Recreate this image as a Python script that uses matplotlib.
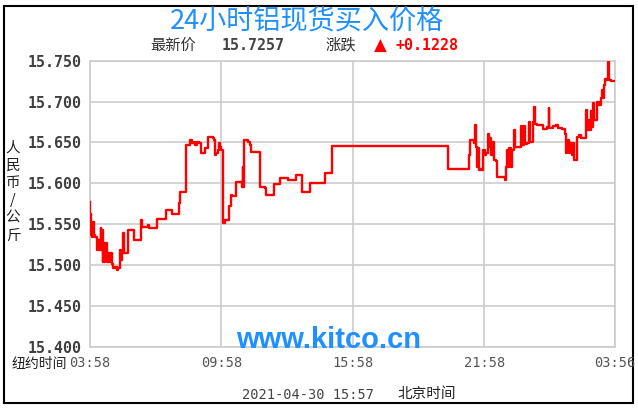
import matplotlib
matplotlib.use("Agg")
import matplotlib.pyplot as plt
from matplotlib.patches import Rectangle

plt.rcParams['font.family'] = ['Noto Sans CJK SC', 'DejaVu Sans']

# ---- data (minutes after 03:58 New York time, price CNY/kg) ----
minutes = [0, 1, 3, 5, 6, 9, 11, 14, 18, 21, 24, 26, 29, 31, 33, 35, 36, 39, 42, 45,
           47, 50, 53, 56, 59, 64, 68, 73, 77, 82, 85, 87, 91, 94, 105, 121, 139, 142,
           159, 162, 184, 207, 224, 243, 246, 262, 273, 275, 280, 284, 287, 292, 299,
           303, 315, 322, 337, 340, 342, 346, 351, 354, 357, 360, 363, 365, 371, 380,
           385, 389, 399, 401, 417, 418, 419, 421, 433, 437, 440, 465, 480, 483, 503,
           521, 542, 563, 582, 602, 643, 663,
           980, 1037, 1042, 1053, 1055, 1057, 1060, 1064, 1066, 1071, 1075, 1077, 1082,
           1086, 1091, 1094, 1096, 1099, 1103, 1106, 1112, 1116, 1137, 1139, 1142, 1146,
           1148, 1153, 1157, 1160, 1164, 1180, 1182, 1189, 1191, 1198, 1203, 1205, 1214,
           1217, 1219, 1223, 1240, 1242, 1253, 1256, 1258, 1267, 1276, 1281, 1294, 1301,
           1303, 1306, 1311, 1314, 1319, 1322, 1326, 1333, 1335, 1340, 1344, 1358, 1361,
           1364, 1367, 1372, 1374, 1378, 1381, 1390, 1394, 1399, 1402, 1405, 1408, 1411,
           1415, 1417, 1420, 1422, 1426, 1438]
prices = [15.577, 15.563, 15.537, 15.547, 15.535, 15.553, 15.537, 15.535, 15.519, 15.531,
          15.519, 15.531, 15.545, 15.519, 15.543, 15.504, 15.527, 15.504, 15.515, 15.527,
          15.504, 15.515, 15.504, 15.515, 15.502, 15.496, 15.498, 15.494, 15.496, 15.519,
          15.506, 15.515, 15.539, 15.515, 15.543, 15.531, 15.555, 15.547, 15.549, 15.545,
          15.557, 15.567, 15.563, 15.576, 15.590, 15.647, 15.649, 15.653, 15.649, 15.651,
          15.647, 15.651, 15.649, 15.637, 15.643, 15.657, 15.655, 15.653, 15.635, 15.637,
          15.641, 15.649, 15.645, 15.641, 15.600, 15.551, 15.555, 15.572, 15.586, 15.584,
          15.586, 15.602, 15.596, 15.620, 15.596, 15.653, 15.651, 15.647, 15.638, 15.596,
          15.594, 15.586, 15.599, 15.606, 15.604, 15.610, 15.590, 15.601, 15.613, 15.646,
          15.618, 15.635, 15.653, 15.649, 15.671, 15.645, 15.620, 15.643, 15.616, 15.618,
          15.616, 15.641, 15.635, 15.637, 15.661, 15.645, 15.655, 15.635, 15.651, 15.629,
          15.627, 15.608, 15.604, 15.620, 15.641, 15.620, 15.643, 15.620, 15.641, 15.665,
          15.645, 15.670, 15.647, 15.670, 15.648, 15.649, 15.675, 15.651, 15.675, 15.694,
          15.673, 15.671, 15.670, 15.667, 15.669, 15.692, 15.668, 15.670, 15.671, 15.668,
          15.667, 15.661, 15.637, 15.653, 15.637, 15.649, 15.635, 15.649, 15.629, 15.635,
          15.657, 15.659, 15.655, 15.690, 15.665, 15.678, 15.665, 15.688, 15.669, 15.698,
          15.678, 15.700, 15.696, 15.704, 15.714, 15.704, 15.720, 15.728, 15.726, 15.728,
          15.748, 15.726, 15.7257, 15.7257]

x_ticks = [0, 360, 720, 1080, 1438]
x_tick_labels = ["03:58", "09:58", "15:58", "21:58", "03:56"]
y_ticks = [15.40, 15.45, 15.50, 15.55, 15.60, 15.65, 15.70, 15.75]
y_tick_labels = ["15.400", "15.450", "15.500", "15.550", "15.600", "15.650", "15.700", "15.750"]

title = "24小时铝现货买入价格"
latest_label, latest_value = "最新价", "15.7257"
change_label, change_value = "涨跌", "+0.1228"
ylabel_chars = ["人", "民", "币", "/", "公", "斤"]
ny_label = "纽约时间"
timestamp, bj_label = "2021-04-30 15:57", "北京时间"
watermark = "www.kitco.cn"

W, H = 638, 409
fig = plt.figure(figsize=(W / 100, H / 100), dpi=100)
fig.patch.set_facecolor("white")

def fx(px):
    return px / W

def fy(py):
    return 1 - py / H

L, R, T, B = 90, 615, 60.7, 347
ax = fig.add_axes([fx(L), fy(B), (R - L) / W, (B - T) / H])
ax.plot(minutes, prices, drawstyle="steps-post", color="#ff0000", lw=1.7, zorder=3)
ax.set_xlim(0, 1438)
ax.set_ylim(15.40, 15.75)
ax.set_xticks(x_ticks)
ax.set_xticklabels([""] * len(x_ticks))
ax.set_yticks(y_ticks)
ax.set_yticklabels(y_tick_labels, family="DejaVu Sans Mono", fontweight="bold",
                   fontsize=10.8, color="#404040")
ax.tick_params(axis="both", length=0)
ax.tick_params(axis="y", pad=6)
ax.grid(True, color="#cccccc", lw=1.2)
for s in ax.spines.values():
    s.set_color("#cccccc")
    s.set_linewidth(1.2)

# x tick labels
for t, lab in zip(x_ticks, x_tick_labels):
    px = L + (R - L) * t / 1438
    fig.text(fx(px), fy(363), lab, ha="center", va="center",
             family="DejaVu Sans Mono", fontsize=9.8, color="#555555")
fig.text(fx(67), fy(364), ny_label, ha="right", va="center", fontsize=10, color="#222222")

# title and header
fig.text(fx(307), fy(21), title, ha="center", va="center", fontsize=19.5, color="#1E90FF")
fig.text(fx(150), fy(45), latest_label, ha="left", va="center", fontsize=11, color="#333333")
fig.text(fx(222), fy(46), latest_value, ha="left", va="center", family="DejaVu Sans Mono",
         fontweight="bold", fontsize=10.8, color="#444444")
fig.text(fx(326), fy(45), change_label, ha="left", va="center", fontsize=11, color="#333333")
fig.text(fx(374), fy(46), "▲", ha="left", va="center", family="DejaVu Sans",
         fontsize=12, color="#ff0000")
fig.text(fx(396), fy(46), change_value, ha="left", va="center", family="DejaVu Sans Mono",
         fontweight="bold", fontsize=10.8, color="#ff0000")

# y label stacked
for i, ch in enumerate(ylabel_chars):
    fig.text(fx(13), fy(148 + i * 17.5), ch, ha="center", va="center", fontsize=10.5,
             color="#222222")

# bottom timestamp
fig.text(fx(242), fy(395), timestamp, ha="left", va="center", family="DejaVu Sans Mono",
         fontsize=9.8, color="#444444")
fig.text(fx(397), fy(394), bj_label, ha="left", va="center", fontsize=10.5, color="#222222")

# watermark
fig.text(fx(329), fy(348), watermark, ha="center", va="baseline",
         family="Liberation Sans", fontweight="bold", fontsize=21, color="#1E90FF", zorder=5)

# outer border
fig.patches.append(Rectangle((fx(4), fy(403)), fx(633) - fx(4), fy(6) - fy(403),
                             transform=fig.transFigure, fill=False, edgecolor="black",
                             lw=1.5))

fig.savefig("out.png", dpi=100, facecolor="white")
